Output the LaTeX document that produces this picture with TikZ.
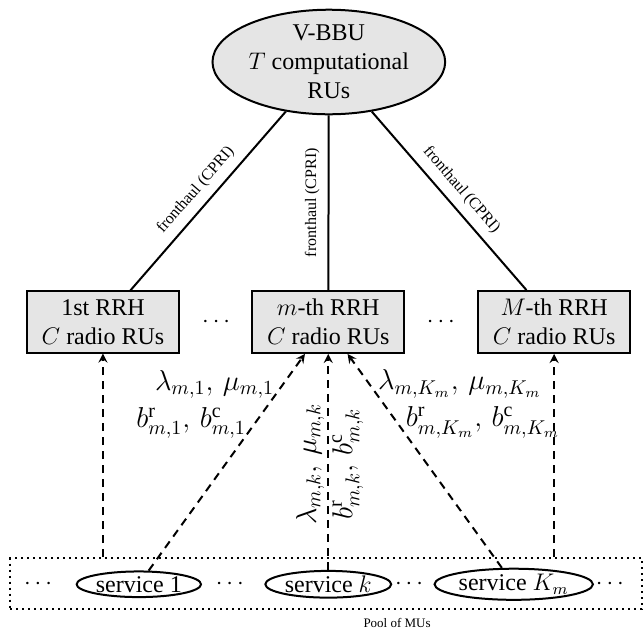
\documentclass[12pt,tikz,border=0pt]{standalone}
\usepackage{fontspec}
\setmainfont{Liberation Serif}
\usetikzlibrary{shapes.geometric}

\begin{document}
\begin{tikzpicture}[bbu/.style={ellipse,draw=black,fill=gray!20,line width=1pt,align=center,inner sep=0pt,minimum width=4.09cm,minimum height=1.76cm},
  rrh/.style={draw=black,fill=gray!20,line width=1pt,align=center,minimum width=2.68cm,minimum height=0.97cm},
  service/.style={ellipse,draw=black,line width=1pt,inner sep=0.5pt},
  flow/.style={>=stealth,line width=1pt,dash pattern=on 4pt off 3pt,->},
  link/.style={line width=1pt},
  fh/.style={font=\scriptsize,midway,sloped,above},
  rate/.style={font=\large}]

\useasboundingbox (0,0) rectangle (11.32,11.11);

% Draw the V-BBU
\node[bbu] (vbbu) at (5.78,10.02) {V-BBU\\$T$ computational\\RUs};

% Draw the RRHs
\node[rrh] (rrh1) at (1.81,5.45) {1st RRH\\$C$ radio RUs};
\node[rrh] (rrh2) at (5.77,5.45) {$m$-th RRH\\$C$ radio RUs};
\node[rrh] (rrh3) at (9.74,5.45) {$M$-th RRH\\$C$ radio RUs};
\node (rdots1) at (3.80,5.45) {$\cdots$};
\node (rdots2) at (7.75,5.45) {$\cdots$};

% Draw the fronthaul links
\draw[link] (vbbu) -- (rrh1) node[fh] {fronthaul (CPRI)};
\draw[link] (vbbu) -- (rrh2) node[fh] {fronthaul (CPRI)};
\draw[link] (vbbu) -- (rrh3) node[fh] {fronthaul (CPRI)};

% Draw the pool of MUs
\node[draw,line width=1pt,dotted,minimum width=11.1cm,minimum height=0.9cm] (pool) at (5.73,0.85) {};
\node[service] (s1) at (2.44,0.84) {service 1};
\node[service] (sk) at (5.77,0.84) {service $k$};
\node[service] (skm) at (9.03,0.84) {service $K_m$};
\node (sdots1) at (0.67,0.84) {$\cdots$};
\node (sdots2) at (4.04,0.84) {$\cdots$};
\node (sdots3) at (7.19,0.84) {$\cdots$};
\node (sdots4) at (10.72,0.84) {$\cdots$};
\node[font=\fontsize{6.5}{8}\selectfont] (poollabel) at (6.98,0.16) {Pool of MUs};

% Draw the service flows
\draw[flow] (rrh1 |- pool.north) -- (rrh1.south);
\draw[flow] (rrh3 |- pool.north) -- (rrh3.south);
\draw[flow] (s1) -- ([xshift=-0.41cm]rrh2.south)
  node[rate,pos=0.86,left] {$\lambda_{m,1},\,\mu_{m,1}$}
  node[rate,pos=0.68,left] {$b^{\mathrm{r}}_{m,1},\,b^{\mathrm{c}}_{m,1}$};
\draw[flow] (sk) -- (rrh2.south)
  node[rate,pos=0.49,sloped,above,inner sep=1.5pt] {$\lambda_{m,k},\,\mu_{m,k}$}
  node[rate,pos=0.49,sloped,below,inner sep=1.5pt] {$b^{\mathrm{r}}_{m,k},\,b^{\mathrm{c}}_{m,k}$};
\draw[flow] (skm) -- ([xshift=0.34cm]rrh2.south)
  node[rate,pos=0.86,right] {$\lambda_{m,K_m},\,\mu_{m,K_m}$}
  node[rate,pos=0.68,right] {$b^{\mathrm{r}}_{m,K_m},\,b^{\mathrm{c}}_{m,K_m}$};

\end{tikzpicture}
\end{document}
